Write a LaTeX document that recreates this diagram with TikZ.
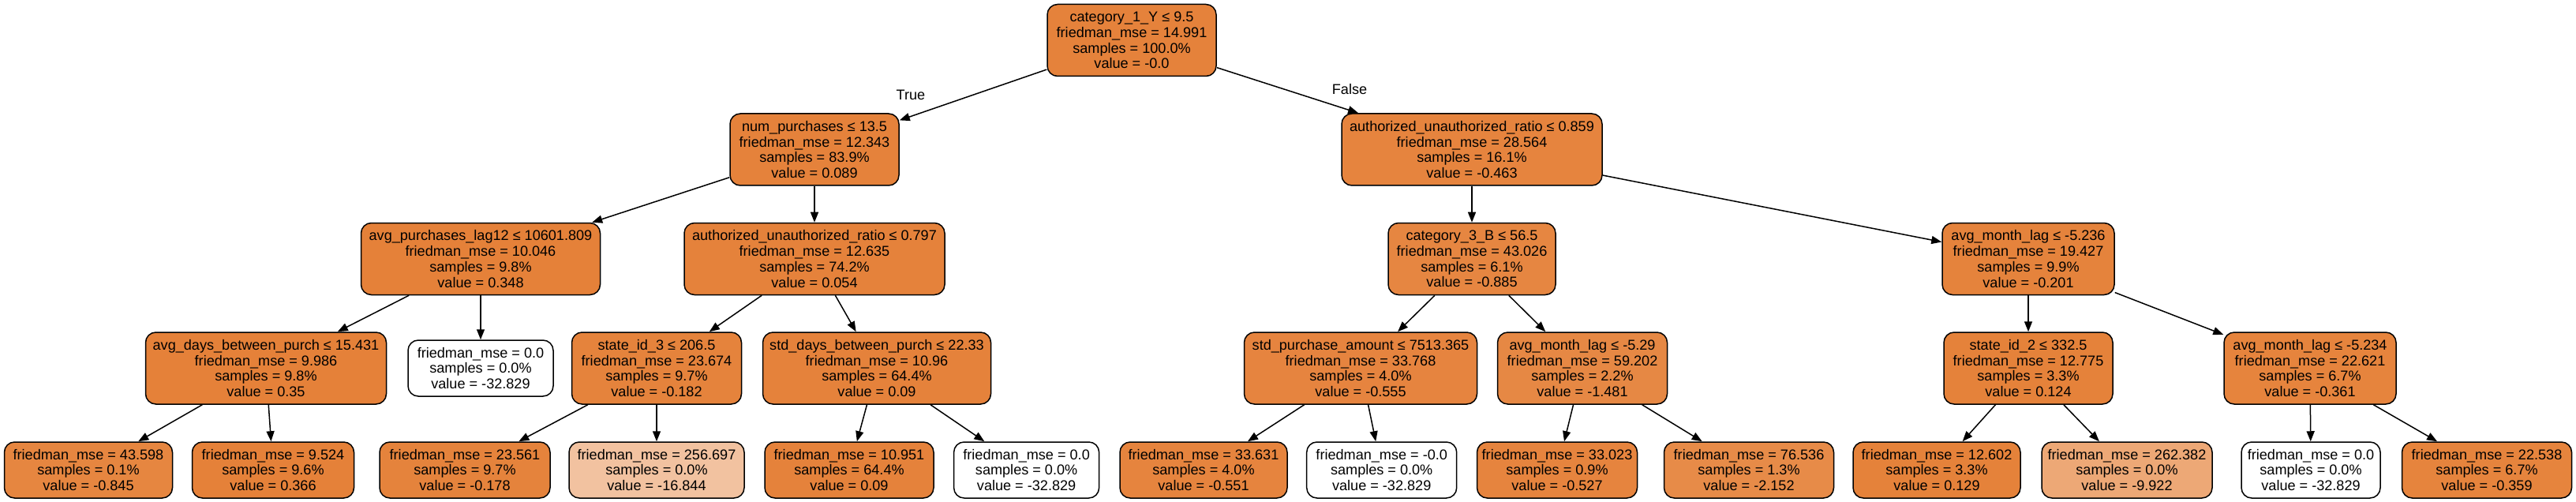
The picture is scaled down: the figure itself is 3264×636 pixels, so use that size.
\documentclass[tikz,border=0pt]{standalone}
\usepackage{fontspec}
\setmainfont{Liberation Sans}
\usetikzlibrary{arrows.meta}
\definecolor{tc}{RGB}{229,129,57}
\begin{document}
\begin{tikzpicture}[x=0.5pt,y=-0.5pt,
  box/.style={draw=black, line width=0.75pt, rounded corners=6.5pt, align=center, inner sep=0pt,
    font=\fontsize{9.05pt}{9.9pt}\selectfont, minimum height=45.5pt},
  leaf/.style={box, minimum height=35.5pt},
  bw/.style={minimum width=#1*0.5pt},
  fc/.style={fill=tc!#1!white},
  edge/.style={-{Triangle[length=6.5pt,width=5pt]}, line width=0.75pt},
  lbl/.style={font=\fontsize{9.05pt}{9.9pt}\selectfont, inner sep=0pt}]
\useasboundingbox (0,0) rectangle (3264,636);
% level 0
\node[box,bw=214,fc=98.9] (n0) at (1434,51) {category\_1\_Y ≤ 9.5\\friedman\_mse = 14.991\\samples = 100.0\%\\value = -0.0};
% level 1
\node[box,bw=214,fc=99.16] (n1) at (1032,189.5) {num\_purchases ≤ 13.5\\friedman\_mse = 12.343\\samples = 83.9\%\\value = 0.089};
\node[box,bw=330,fc=97.5] (n2) at (1865,189.5) {authorized\_unauthorized\_ratio ≤ 0.859\\friedman\_mse = 28.564\\samples = 16.1\%\\value = -0.463};
% level 2
\node[box,bw=303,fc=99.95] (n3) at (609,328) {avg\_purchases\_lag12 ≤ 10601.809\\friedman\_mse = 10.046\\samples = 9.8\%\\value = 0.348};
\node[box,bw=330,fc=99.06] (n4) at (1032,328) {authorized\_unauthorized\_ratio ≤ 0.797\\friedman\_mse = 12.635\\samples = 74.2\%\\value = 0.054};
\node[box,bw=212,fc=96.2] (n5) at (1865,328) {category\_3\_B ≤ 56.5\\friedman\_mse = 43.026\\samples = 6.1\%\\value = -0.885};
\node[box,bw=218,fc=98.29] (n6) at (2570,328) {avg\_month\_lag ≤ -5.236\\friedman\_mse = 19.427\\samples = 9.9\%\\value = -0.201};
% level 3
\node[box,bw=305,fc=99.95] (n7) at (337,466.5) {avg\_days\_between\_purch ≤ 15.431\\friedman\_mse = 9.986\\samples = 9.8\%\\value = 0.35};
\node[leaf,bw=184,fill=white] (n8) at (609,466.5) {friedman\_mse = 0.0\\samples = 0.0\%\\value = -32.829};
\node[box,bw=215,fc=98.35] (n9) at (832,466.5) {state\_id\_3 ≤ 206.5\\friedman\_mse = 23.674\\samples = 9.7\%\\value = -0.182};
\node[box,bw=289,fc=99.17] (n10) at (1111,466.5) {std\_days\_between\_purch ≤ 22.33\\friedman\_mse = 10.96\\samples = 64.4\%\\value = 0.09};
\node[box,bw=295,fc=97.22] (n11) at (1724,466.5) {std\_purchase\_amount ≤ 7513.365\\friedman\_mse = 33.768\\samples = 4.0\%\\value = -0.555};
\node[box,bw=215,fc=94.44] (n12) at (2005,466.5) {avg\_month\_lag ≤ -5.29\\friedman\_mse = 59.202\\samples = 2.2\%\\value = -1.481};
\node[box,bw=214,fc=99.27] (n13) at (2570,466.5) {state\_id\_2 ≤ 332.5\\friedman\_mse = 12.775\\samples = 3.3\%\\value = 0.124};
\node[box,bw=218,fc=97.81] (n14) at (2927,466.5) {avg\_month\_lag ≤ -5.234\\friedman\_mse = 22.621\\samples = 6.7\%\\value = -0.361};
% level 4
\node[leaf,bw=213,fc=96.35] (l1) at (112,595.5) {friedman\_mse = 43.598\\samples = 0.1\%\\value = -0.845};
\node[leaf,bw=205,fc=100] (l2) at (346,595.5) {friedman\_mse = 9.524\\samples = 9.6\%\\value = 0.366};
\node[leaf,bw=216,fc=98.36] (l3) at (589,595.5) {friedman\_mse = 23.561\\samples = 9.7\%\\value = -0.178};
\node[leaf,bw=222,fc=48.15] (l4) at (832,595.5) {friedman\_mse = 256.697\\samples = 0.0\%\\value = -16.844};
\node[leaf,bw=214,fc=99.17] (l5) at (1076,595.5) {friedman\_mse = 10.951\\samples = 64.4\%\\value = 0.09};
\node[leaf,bw=184,fill=white] (l6) at (1300.6,595.5) {friedman\_mse = 0.0\\samples = 0.0\%\\value = -32.829};
\node[leaf,bw=212,fc=97.23] (l7) at (1525,595.5) {friedman\_mse = 33.631\\samples = 4.0\%\\value = -0.551};
\node[leaf,bw=190,fill=white] (l8) at (1750.7,595.5) {friedman\_mse = -0.0\\samples = 0.0\%\\value = -32.829};
\node[leaf,bw=203,fc=97.31] (l9) at (1973,595.5) {friedman\_mse = 33.023\\samples = 0.9\%\\value = -0.527};
\node[leaf,bw=215,fc=92.41] (l10) at (2216,595.5) {friedman\_mse = 76.536\\samples = 1.3\%\\value = -2.152};
\node[leaf,bw=212,fc=99.28] (l11) at (2454,595.5) {friedman\_mse = 12.602\\samples = 3.3\%\\value = 0.129};
\node[leaf,bw=216,fc=69.0] (l12) at (2695,595.5) {friedman\_mse = 262.382\\samples = 0.0\%\\value = -9.922};
\node[leaf,bw=176,fill=white] (l13) at (2928,595.5) {friedman\_mse = 0.0\\samples = 0.0\%\\value = -32.829};
\node[leaf,bw=215,fc=97.82] (l14) at (3151,595.5) {friedman\_mse = 22.538\\samples = 6.7\%\\value = -0.359};
% edges
\draw[edge] (n0) -- (n1);
\draw[edge] (n0) -- (n2);
\draw[edge] (n1) -- (n3);
\draw[edge] (n1) -- (n4);
\draw[edge] (n2) -- (n5);
\draw[edge] (n2) -- (n6);
\draw[edge] (n3) -- (n7);
\draw[edge] (n3) -- (n8);
\draw[edge] (n4) -- (n9);
\draw[edge] (n4) -- (n10);
\draw[edge] (n5) -- (n11);
\draw[edge] (n5) -- (n12);
\draw[edge] (n6) -- (n13);
\draw[edge] (n6) -- (n14);
\draw[edge] (n7) -- (l1);
\draw[edge] (n7) -- (l2);
\draw[edge] (n9) -- (l3);
\draw[edge] (n9) -- (l4);
\draw[edge] (n10) -- (l5);
\draw[edge] (n10) -- (l6);
\draw[edge] (n11) -- (l7);
\draw[edge] (n11) -- (l8);
\draw[edge] (n12) -- (l9);
\draw[edge] (n12) -- (l10);
\draw[edge] (n13) -- (l11);
\draw[edge] (n13) -- (l12);
\draw[edge] (n14) -- (l13);
\draw[edge] (n14) -- (l14);
% edge labels
\node[lbl] (tl) at (1154,120) {True};
\node[lbl] (fl) at (1710,113) {False};
\end{tikzpicture}
\end{document}
